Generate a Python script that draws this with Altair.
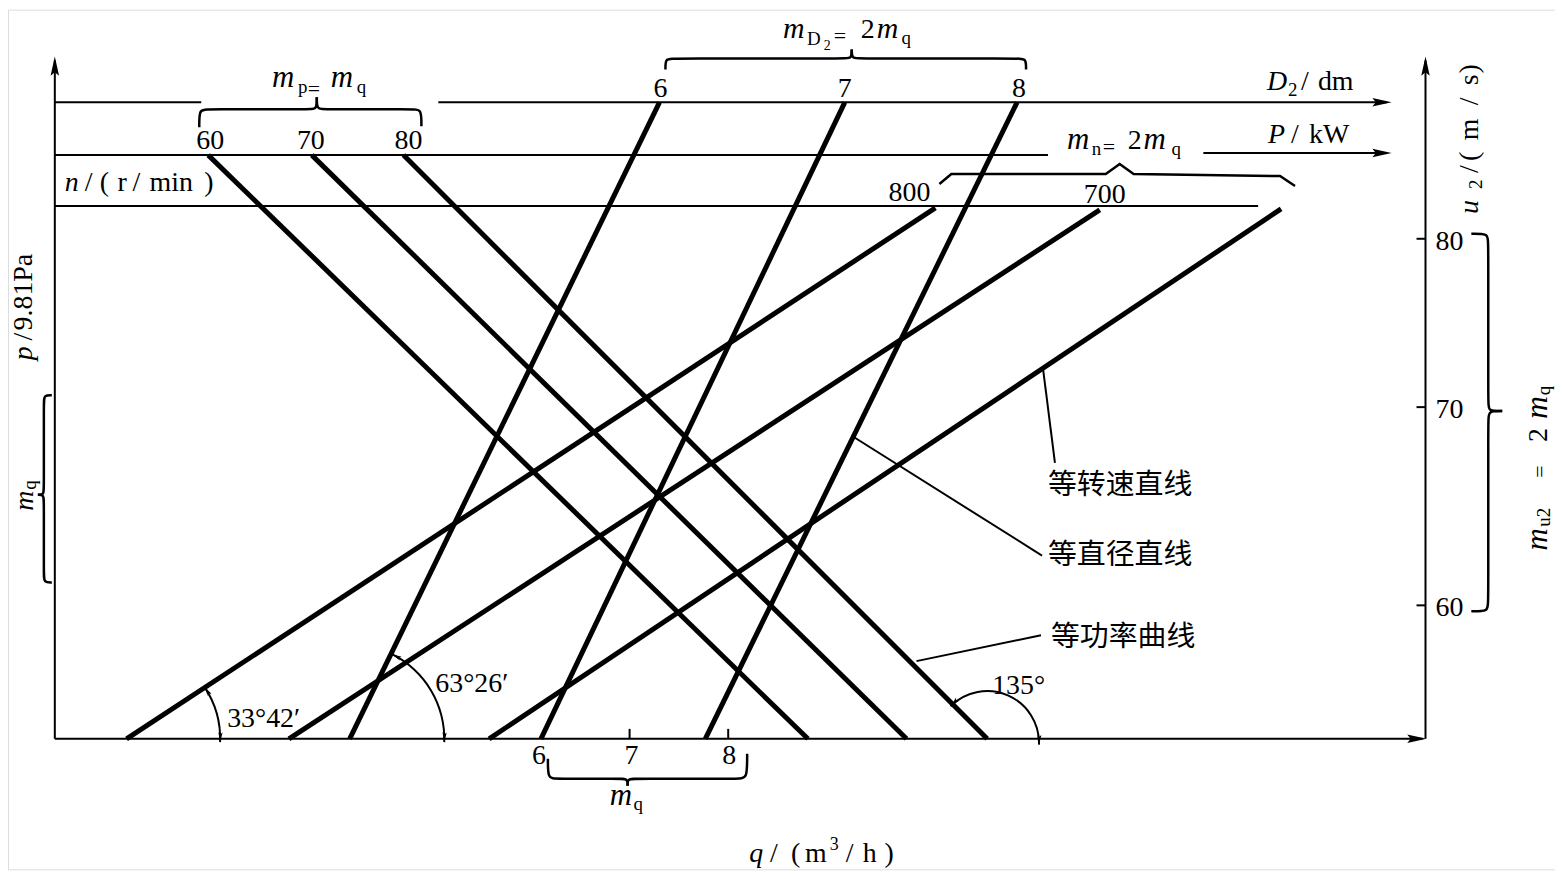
import math
import altair as alt
import pandas as pd

# ---------------- nomogram values (diagram units) ----------------
# scale lines of the nomogram
d2_line_y = 101          # D2 / dm scale line
p_line_y = 154           # P / kW scale line
n_line_y = 205           # n / (r/min) scale line
q_axis_y = 740           # q axis
p_axis_x = 55            # p axis
u2_axis_x = 1431         # u2 axis
axis_tip_y = 55
q_axis_tip_x = 1432

# constant-power lines  P = 60, 70, 80 kW
power_labels = ["60", "70", "80"]
power_label_x = [211, 312, 410]
power_top_x = [209, 313, 405]
power_bottom_x = [811, 910, 991]

# constant-diameter lines  D2 = 6, 7, 8 dm
diam_labels = ["6", "7", "8"]
diam_label_x = [663, 848, 1023]
diam_top_x = [662, 848, 1021]
diam_bottom_x = [351, 543, 708]

# constant-speed lines  n = 800, 700 r/min
speed_labels = ["800", "700"]
speed_label_x = [913, 1109]
speed_top_x = [939, 1104, 1286]
speed_top_y = [207, 209, 208]
speed_bottom_x = [127, 290, 491]

# q axis ticks
q_labels = ["6", "7", "8"]
q_label_x = [541, 634, 732]
q_tick_x = [632, 731]

# u2 axis ticks
u2_labels = ["80", "70", "60"]
u2_tick_y = [238, 407, 606]

# angle annotations (degrees) and their vertices
angle_values = [33.7, 63.43, 135.0]
angle_text = ["33°42′", "63°26′", "135°"]
angle_vertex_x = [127, 351, 991]
angle_vertex_y = [740, 740, 744]
angle_radius = [94, 95, 52]
angle_text_x = [228, 437, 996]
angle_text_y = [728, 693, 695]

# leader lines of the three line families
leader_labels = ["等转速直线", "等直径直线", "等功率曲线"]
leader_from_x = [1047, 857, 920]
leader_from_y = [368, 437, 662]
leader_to_x = [1059, 1046, 1045]
leader_to_y = [463, 556, 636]
leader_text_x = [1052, 1052, 1055]
leader_text_y = [485, 555, 638]

# braces: end1, end2, bar position, tip, orientation
brace_e1 = [(200, 126), (668, 68), (550, 760), (52, 395), (1477, 233)]
brace_e2 = [(423, 125), (1030, 68), (750, 755), (52, 583), (1477, 612)]
brace_bar = [108, 57, 780, 44, 1494]
brace_tip = [(318, 96), (855, 48), (630, 787), (38, 495), (1508, 411)]
brace_orient = ["h", "h", "h", "v", "v"]
# m_n bracket (polyline)
n_brace_x = [943, 955, 1110, 1124, 1138, 1285, 1300]
n_brace_y = [183, 173, 173, 163, 173, 175, 185]

# ---------------- build tables ----------------
thick = []
for tx, bx in zip(power_top_x, power_bottom_x):
    thick.append(dict(x=tx, y=p_line_y, x2=bx, y2=q_axis_y))
for tx, bx in zip(diam_top_x, diam_bottom_x):
    thick.append(dict(x=tx, y=d2_line_y, x2=bx, y2=q_axis_y))
for tx, ty, bx in zip(speed_top_x, speed_top_y, speed_bottom_x):
    thick.append(dict(x=tx, y=ty, x2=bx, y2=q_axis_y))
thick = pd.DataFrame(thick)

thin = [
    dict(x=p_axis_x, y=q_axis_y, x2=p_axis_x, y2=axis_tip_y + 4),
    dict(x=p_axis_x, y=q_axis_y, x2=q_axis_tip_x - 4, y2=q_axis_y),
    dict(x=u2_axis_x, y=q_axis_y, x2=u2_axis_x, y2=axis_tip_y + 4),
    dict(x=p_axis_x, y=d2_line_y, x2=202, y2=d2_line_y),
    dict(x=440, y=d2_line_y, x2=1392, y2=d2_line_y),
    dict(x=p_axis_x, y=p_line_y, x2=1052, y2=p_line_y),
    dict(x=1208, y=p_line_y - 2, x2=1392, y2=p_line_y - 2),
    dict(x=p_axis_x, y=n_line_y, x2=1263, y2=n_line_y),
]
for tx in q_tick_x:
    thin.append(dict(x=tx, y=q_axis_y - 10, x2=tx, y2=q_axis_y))
for ty in u2_tick_y:
    thin.append(dict(x=u2_axis_x - 9, y=ty, x2=u2_axis_x, y2=ty))
for fx, fy, tx, ty in zip(leader_from_x, leader_from_y, leader_to_x, leader_to_y):
    thin.append(dict(x=fx, y=fy, x2=tx, y2=ty))
thin = pd.DataFrame(thin)


def half_brace(end, tip, bar, orient, r=7):
    ex, ey = end
    tx, ty = tip
    if orient == "h":
        d = 1 if tx > ex else -1
        return [(ex, ey), (ex, bar), (ex + d * r, bar), (tx - d * r, bar), (tx, bar), (tx, ty)]
    d = 1 if ty > ey else -1
    return [(ex, ey), (bar, ey), (bar, ey + d * r), (bar, ty - d * r), (bar, ty), (tx, ty)]


brace_rows = []
k = 0
for e1, e2, bar, tip, o in zip(brace_e1, brace_e2, brace_bar, brace_tip, brace_orient):
    for end in (e1, e2):
        for i, (px, py) in enumerate(half_brace(end, tip, bar, o)):
            brace_rows.append(dict(x=px, y=py, id=k, i=i))
        k += 1
braces = pd.DataFrame(brace_rows)
nbrace = pd.DataFrame(dict(x=n_brace_x, y=n_brace_y, i=list(range(len(n_brace_x)))))

# angle arcs
arc_rows, head_rows = [], []
for a, cx, cy, r in zip(angle_values, angle_vertex_x, angle_vertex_y, angle_radius):
    t0 = (90 - a) % 360
    t1 = 92 if t0 < 90 else 452
    arc_rows.append(dict(x=cx, y=cy, t0=math.radians(t0), t1=math.radians(t1), r0=r - 1, r1=r + 1))
    for t, ang in ((t0, t0 - 90), (t1, t1 + 90)):
        head_rows.append(dict(x=cx + r * math.sin(math.radians(t)), y=cy - r * math.cos(math.radians(t)),
                              a=ang % 360, s=380))
arcs = pd.DataFrame(arc_rows)

# axis arrowheads
head_rows += [
    dict(x=p_axis_x, y=axis_tip_y, a=0, s=1500),
    dict(x=u2_axis_x, y=axis_tip_y, a=0, s=1500),
    dict(x=q_axis_tip_x, y=q_axis_y, a=90, s=1500),
    dict(x=1397, y=d2_line_y, a=90, s=1500),
    dict(x=1397, y=p_line_y - 2, a=90, s=1500),
]
heads = pd.DataFrame(head_rows)

# ---------------- text pieces: (text, x, y, size, angle) ----------------
ital = [
    ("m", 273, 86, 31, 0), ("m", 332, 86, 31, 0),
    ("m", 786, 36, 30, 0), ("m", 880, 36, 30, 0),
    ("m", 1071, 148, 31, 0), ("m", 1148, 148, 31, 0),
    ("n", 65, 190, 28, 0), ("D", 1272, 89, 28, 0), ("P", 1273, 142, 28, 0),
    ("m", 612, 806, 31, 0), ("q", 752, 864, 28, 0),
    ("u", 1484, 213, 28, 270), ("m", 1553, 551, 31, 270), ("m", 1553, 419, 32, 270),
    ("p", 32, 360, 28, 270), ("m", 33, 511, 28, 270),
]
roman = [
    ("p", 299, 92, 19, 0), ("=", 309, 95, 22, 0), ("q", 358, 92, 19, 0),
    ("D", 810, 43, 19, 0), ("2", 827, 48, 14, 0), ("=", 837, 41, 22, 0), ("2", 864, 36, 28, 0), ("q", 905, 42, 19, 0),
    ("n", 1096, 154, 19, 0), ("=", 1107, 153, 22, 0), ("2", 1132, 148, 28, 0), ("q", 1176, 154, 19, 0),
    ("/", 85, 190, 28, 0), ("(", 100, 190, 28, 0), ("r", 118, 190, 28, 0), ("/", 133, 190, 28, 0),
    ("min", 150, 190, 28, 0), (")", 205, 190, 28, 0),
    ("2", 1293, 95, 19, 0), ("/", 1306, 89, 28, 0), ("dm", 1323, 89, 28, 0),
    ("/", 1296, 142, 28, 0), ("kW", 1314, 142, 28, 0),
    ("/", 773, 864, 28, 0), ("(", 794, 864, 28, 0), ("m", 808, 864, 28, 0), ("3", 833, 852, 18, 0),
    ("/", 849, 864, 28, 0), ("h", 866, 864, 28, 0), (")", 888, 864, 28, 0),
    ("q", 636, 811, 19, 0),
    ("2", 1488, 188, 19, 270), ("/", 1484, 172, 28, 270), ("(", 1484, 160, 28, 270), ("m", 1484, 139, 28, 270),
    ("/", 1484, 104, 28, 270), ("s", 1484, 84, 28, 270), (")", 1484, 72, 28, 270),
    ("u2", 1556, 527, 19, 270), ("=", 1553, 478, 22, 270), ("2", 1553, 442, 28, 270), ("q", 1556, 395, 19, 270),
    ("/", 32, 340, 28, 270), ("9.81Pa", 32, 330, 28, 270),
    ("q", 36, 490, 19, 270),
]
for lab, ty in zip(u2_labels, u2_tick_y):
    roman.append((lab, 1441, ty + 11, 28, 0))
for t, tx, ty in zip(angle_text, angle_text_x, angle_text_y):
    roman.append((t, tx, ty, 28, 0))

centered = []
for lab, lx in zip(power_labels, power_label_x):
    centered.append((lab, lx, 148, 28, 0))
for lab, lx in zip(diam_labels, diam_label_x):
    centered.append((lab, lx, 96, 28, 0))
for lab, lx, ly in zip(speed_labels, speed_label_x, [200, 202]):
    centered.append((lab, lx, ly, 28, 0))
for lab, lx in zip(q_labels, q_label_x):
    centered.append((lab, lx, 765, 28, 0))

cjk = [(t, x, y, 29, 0) for t, x, y in zip(leader_labels, leader_text_x, leader_text_y)]


def tdf(rows):
    return pd.DataFrame(rows, columns=["t", "x", "y", "s", "a"])


# ---------------- chart ----------------
W, H = 1553, 863
xs = alt.Scale(domain=[8, 8 + W], nice=False, zero=False)
ys = alt.Scale(domain=[8, 8 + H], nice=False, zero=False, reverse=True)
X = alt.X("x:Q", scale=xs, axis=None)
Y = alt.Y("y:Q", scale=ys, axis=None)

thin_layer = alt.Chart(thin).mark_rule(color="black", strokeWidth=2, strokeCap="butt").encode(
    x=X, y=Y, x2="x2:Q", y2="y2:Q")
thick_layer = alt.Chart(thick).mark_rule(color="black", strokeWidth=5, strokeCap="butt").encode(
    x=X, y=Y, x2="x2:Q", y2="y2:Q")
brace_layer = alt.Chart(braces).mark_line(color="black", strokeWidth=2.5, interpolate="basis").encode(
    x=X, y=Y, detail="id:N", order="i:Q")
nbrace_layer = alt.Chart(nbrace).mark_line(color="black", strokeWidth=2.5).encode(
    x=X, y=Y, order="i:Q")
arc_layer = alt.Chart(arcs).mark_arc(color="black").encode(
    x=X, y=Y,
    theta=alt.Theta("t0:Q", scale=None, stack=None), theta2="t1:Q",
    radius=alt.Radius("r0:Q", scale=None), radius2="r1:Q")
head_layer = alt.Chart(heads).mark_point(
    shape="M0,0 L0.22,1 L0,0.82 L-0.22,1 Z", filled=True, color="black", opacity=1, strokeWidth=0).encode(
    x=X, y=Y, angle=alt.Angle("a:Q", scale=None), size=alt.Size("s:Q", scale=None))


def text_layer(rows, font, align, baseline="alphabetic", style="normal"):
    return alt.Chart(tdf(rows)).mark_text(
        font=font, align=align, baseline=baseline, fontStyle=style, color="black").encode(
        x=X, y=Y, text="t:N", size=alt.Size("s:Q", scale=None), angle=alt.Angle("a:Q", scale=None))


serif = "Liberation Serif"
chart = alt.layer(
    thin_layer, thick_layer, brace_layer, nbrace_layer, arc_layer, head_layer,
    text_layer(ital, serif, "left", style="italic"),
    text_layer(roman, serif, "left"),
    text_layer(centered, serif, "center"),
    text_layer(cjk, "Noto Sans CJK SC", "left", baseline="middle"),
).properties(width=W, height=H, padding=0, autosize=alt.AutoSizeParams(type="none")).configure_view(
    strokeWidth=0, stroke="transparent").configure(background="white")

chart.save("out.html", embed_options={"renderer": "svg", "actions": False})
